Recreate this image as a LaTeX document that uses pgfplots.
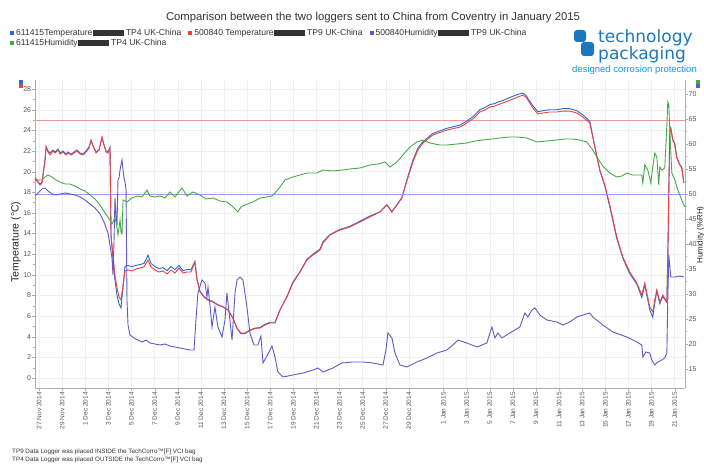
\documentclass[border=0pt]{standalone}
\usepackage{fontspec}
\setmainfont{Liberation Sans}
\newfontfamily\logofont{DejaVu Sans}
\usepackage{pgfplots}
\pgfplotsset{compat=1.18}
\definecolor{tblue}{RGB}{40,105,215}
\definecolor{tred}{RGB}{235,65,65}
\definecolor{hpurple}{RGB}{95,90,200}
\definecolor{hgreen}{RGB}{70,170,70}
\definecolor{refred}{RGB}{240,150,150}
\definecolor{refblue}{RGB}{155,155,235}
\definecolor{logoblue}{RGB}{25,120,190}
\definecolor{logocyan}{RGB}{0,160,225}
\definecolor{axgray}{RGB}{175,175,175}
\definecolor{txtgray}{RGB}{85,85,85}
\newcommand{\sq}[1]{\textcolor{#1}{\rule{4pt}{4pt}}\hspace{2pt}}
\newcommand{\blob}{\rule[-1pt]{31pt}{6.5pt}}
\begin{document}
\begin{tikzpicture}
\path[use as bounding box] (0,0) rectangle (704pt,464pt);
% ---------- temperature axis ----------
\begin{axis}[
  at={(35pt,76pt)}, anchor=south west,
  scale only axis, width=650pt, height=308pt,
  xmin=-0.35, xmax=55.9, ymin=-0.97, ymax=28.88,
  axis x line*=bottom, axis y line*=left,
  axis line style={axgray},
  tick align=outside, major tick length=2.5pt, minor tick length=1.5pt,
  tick style={axgray},
  grid=major, grid style={gray!12},
  xtick={0,2,4,6,8,10,12,14,16,18,20,22,24,26,28,30,32,35,37,39,41,43,45,47,49,51,53,55},
  xticklabels={27 Nov 2014,29 Nov 2014,1 Dec 2014,3 Dec 2014,5 Dec 2014,7 Dec 2014,9 Dec 2014,11 Dec 2014,13 Dec 2014,15 Dec 2014,17 Dec 2014,19 Dec 2014,21 Dec 2014,23 Dec 2014,25 Dec 2014,27 Dec 2014,29 Dec 2014,1 Jan 2015,3 Jan 2015,5 Jan 2015,7 Jan 2015,9 Jan 2015,11 Jan 2015,13 Jan 2015,15 Jan 2015,17 Jan 2015,19 Jan 2015,21 Jan 2015},
  x tick label style={rotate=90, anchor=east, font=\fontsize{6.5}{7}\selectfont, text=txtgray, inner sep=1.5pt},
  ytick={0,2,...,28}, minor y tick num=1,
  y tick label style={font=\fontsize{7}{8}\selectfont, text=txtgray, inner sep=1.2pt},
  /pgf/number format/assume math mode=true,
]
\addplot[refred, line width=0.7pt, forget plot] coordinates {(-0.35,25) (55.9,25)};
% 611415 Temperature TP4 (blue)
\addplot[tblue, line width=0.9pt] coordinates {
(-0.35,19.3) (-0.17,19.1) (0.09,18.8) (0.26,19.0) (0.35,19.8) (0.52,21.2) (0.61,22.4) (0.78,22.0)
(0.95,21.8) (1.21,22.1) (1.38,21.9) (1.64,22.2) (1.82,21.8) (2.08,22.0) (2.34,21.7) (2.51,21.9)
(2.77,21.7) (3.03,21.9) (3.29,22.1) (3.55,21.8) (3.81,21.7) (4.07,22.0) (4.33,22.4) (4.50,23.0)
(4.67,22.5) (4.93,21.9) (5.19,22.1) (5.45,23.3) (5.62,22.6) (5.80,22.0) (5.97,21.9) (6.14,22.3)
(6.23,13.8) (6.40,11.5) (6.57,9.5) (6.75,8.0) (6.92,7.2) (7.09,6.8) (7.27,8.8) (7.44,10.8)
(7.70,10.9) (8.04,10.8) (8.39,10.9) (8.74,11.0) (9.08,11.1) (9.43,11.9) (9.69,11.1) (10.03,10.8)
(10.38,10.6) (10.73,10.7) (11.07,10.4) (11.42,10.8) (11.76,10.5) (12.11,10.9) (12.46,10.4) (12.80,10.5)
(13.15,10.5) (13.49,11.3) (13.67,9.6) (13.93,8.4) (14.27,7.9) (14.62,7.6) (15.05,7.4) (15.48,7.1)
(15.92,6.9) (16.35,6.6) (16.78,5.8) (17.13,4.8) (17.47,4.3) (17.82,4.3) (18.25,4.6) (18.69,4.8)
(19.12,4.9) (19.55,5.2) (19.98,5.4) (20.42,5.4) (20.85,6.6) (21.45,7.9) (21.97,9.3) (22.58,10.3)
(23.18,11.5) (23.70,12.0) (24.31,12.5) (24.57,13.2) (25.17,13.9) (26.04,14.4) (26.90,14.7) (27.77,15.2)
(28.63,15.7) (29.50,16.1) (30.10,16.8) (30.54,16.1) (30.97,16.8) (31.40,17.5) (31.83,19.2) (32.35,21.1)
(32.79,22.3) (33.22,22.9) (34.08,23.7) (35.29,24.2) (36.42,24.5) (37.02,24.9) (37.63,25.4) (38.15,26.0)
(38.58,26.2) (39.01,26.5) (39.45,26.6) (39.62,26.7) (40.14,26.9) (40.57,27.1) (41.00,27.3) (41.44,27.5)
(41.87,27.6) (42.13,27.4) (42.30,27.1) (42.73,26.4) (43.17,25.8) (43.60,25.9) (44.20,26.0) (44.81,26.0)
(45.33,26.1) (45.93,26.1) (46.54,25.9) (47.06,25.5) (47.66,24.9) (48.10,22.4) (48.53,20.1) (48.96,18.6)
(49.39,16.6) (50.00,13.5) (50.52,11.6) (51.12,10.1) (51.73,9.1) (52.16,7.8) (52.42,9.0) (52.60,8.0)
(52.85,6.6) (53.11,5.9) (53.29,7.3) (53.46,8.4) (53.72,7.2) (53.98,7.9) (54.33,7.3) (54.41,11.4)
(54.50,18.2) (54.58,23.8) (54.67,24.2) (54.84,23.1) (55.02,22.7) (55.19,21.4) (55.45,20.7) (55.62,20.4)
(55.80,18.9)};
% 500840 Temperature TP9 (red)
\addplot[tred, line width=0.9pt] coordinates {
(-0.35,19.19) (-0.17,19.09) (0.09,18.70) (0.26,18.90) (0.35,19.67) (0.52,21.12) (0.61,22.38) (0.78,21.90)
(0.95,21.61) (1.21,22.00) (1.38,21.80) (1.64,22.09) (1.82,21.71) (2.08,21.90) (2.34,21.61) (2.51,21.80)
(2.77,21.61) (3.03,21.80) (3.29,22.00) (3.55,21.71) (3.81,21.61) (4.07,21.90) (4.33,22.29) (4.50,23.06)
(4.67,22.48) (4.93,21.80) (5.19,22.09) (5.45,23.35) (5.62,22.58) (5.80,21.90) (5.97,21.80) (6.14,22.38)
(6.23,13.66) (6.40,11.92) (6.57,9.98) (6.75,8.72) (6.92,7.85) (7.09,7.56) (7.27,9.01) (7.44,10.37)
(7.70,10.47) (8.04,10.37) (8.39,10.56) (8.74,10.66) (9.08,10.76) (9.43,11.43) (9.69,10.76) (10.03,10.47)
(10.38,10.27) (10.73,10.37) (11.07,10.08) (11.42,10.47) (11.76,10.17) (12.11,10.66) (12.46,10.17) (12.80,10.27)
(13.15,10.27) (13.49,11.24) (13.67,9.50) (13.93,8.33) (14.27,7.85) (14.62,7.56) (15.05,7.36) (15.48,7.07)
(15.92,6.88) (16.35,6.59) (16.78,5.81) (17.13,4.84) (17.47,4.36) (17.82,4.36) (18.25,4.65) (18.69,4.84)
(19.12,4.84) (19.55,5.14) (19.98,5.33) (20.42,5.33) (20.85,6.59) (21.45,7.85) (21.97,9.21) (22.58,10.27)
(23.18,11.43) (23.70,11.92) (24.31,12.40) (24.57,13.08) (25.17,13.86) (26.04,14.34) (26.90,14.63) (27.77,15.12)
(28.63,15.60) (29.50,16.09) (30.10,16.76) (30.54,16.09) (30.97,16.76) (31.40,17.44) (31.83,19.09) (32.35,20.93)
(32.79,22.09) (33.22,22.77) (34.08,23.55) (35.29,24.03) (36.42,24.32) (37.02,24.71) (37.63,25.19) (38.15,25.78)
(38.58,25.97) (39.01,26.26) (39.45,26.36) (39.62,26.45) (40.14,26.65) (40.57,26.84) (41.00,27.03) (41.44,27.23)
(41.87,27.42) (42.13,27.23) (42.30,26.94) (42.73,26.16) (43.17,25.58) (43.60,25.68) (44.20,25.78) (44.81,25.78)
(45.33,25.87) (45.93,25.87) (46.54,25.68) (47.06,25.29) (47.66,24.71) (48.10,22.38) (48.53,20.16) (48.96,18.70)
(49.39,16.76) (50.00,13.66) (50.52,11.72) (51.12,10.27) (51.73,9.21) (52.16,8.04) (52.42,9.21) (52.60,8.24)
(52.85,6.88) (53.11,6.40) (53.29,7.56) (53.46,8.53) (53.72,7.36) (53.98,8.04) (54.33,7.36) (54.41,11.43)
(54.50,18.22) (54.58,23.84) (54.67,24.22) (54.84,23.06) (55.02,22.58) (55.19,21.32) (55.45,20.64) (55.62,20.35)
(55.80,18.90)};
\end{axis}
% ---------- humidity axis ----------
\begin{axis}[
  at={(35pt,76pt)}, anchor=south west,
  scale only axis, width=650pt, height=308pt,
  xmin=-0.35, xmax=55.9, ymin=11.2, ymax=72.8,
  axis x line=none, axis y line*=right,
  axis line style={axgray},
  tick align=outside, major tick length=2.5pt, minor tick length=1.5pt,
  tick style={axgray},
  ytick={15,20,...,70}, minor y tick num=1,
  y tick label style={font=\fontsize{7}{8}\selectfont, text=txtgray, inner sep=1pt},
  /pgf/number format/assume math mode=true,
]
\addplot[refblue, line width=0.7pt, forget plot] coordinates {(-0.35,50) (55.9,50)};
% 500840 Humidity TP9 (purple)
\addplot[hpurple, line width=0.9pt] coordinates {
(-0.35,49.6) (-0.09,50.2) (0.26,51.0) (0.52,51.2) (0.78,50.6) (1.12,50.0) (1.47,49.8) (1.82,50.0)
(2.25,50.2) (2.68,50.0) (3.11,49.8) (3.55,49.4) (3.98,48.8) (4.41,48.0) (4.84,47.2) (5.28,46.0)
(5.62,44.4) (5.97,42.2) (6.14,39.8) (6.31,37.2) (6.40,33.8) (6.49,40.8) (6.57,49.2) (6.66,45.8)
(6.75,43.8) (6.83,52.8) (6.92,53.2) (7.01,54.8) (7.09,55.8) (7.18,56.8) (7.27,54.8) (7.35,53.2)
(7.44,52.4) (7.53,50.8) (7.61,28.8) (7.70,23.8) (7.87,21.8) (8.22,21.2) (8.56,20.8) (8.91,20.4)
(9.26,20.8) (9.60,20.2) (10.03,20.0) (10.47,19.8) (10.90,20.0) (11.33,19.6) (11.76,19.4) (12.20,19.2)
(12.63,19.0) (13.06,18.8) (13.41,18.8) (13.58,24.8) (13.75,30.2) (14.10,32.8) (14.36,32.2) (14.53,29.4)
(14.62,31.4) (14.79,27.8) (14.97,23.4) (15.22,27.4) (15.48,23.4) (15.83,21.4) (16.09,24.8) (16.26,30.2)
(16.52,24.8) (16.70,20.8) (16.96,30.2) (17.13,32.8) (17.39,33.4) (17.65,32.8) (17.99,27.4) (18.25,22.2)
(18.60,19.8) (18.94,19.8) (19.20,21.6) (19.38,16.2) (19.72,17.6) (19.98,18.8) (20.16,19.6) (20.42,17.4)
(20.67,14.4) (21.11,13.4) (21.97,13.8) (22.84,14.2) (23.70,14.8) (24.13,15.2) (24.57,14.4) (25.43,15.2)
(26.21,16.2) (27.16,16.4) (28.03,16.4) (28.89,16.2) (29.76,15.8) (30.02,18.8) (30.19,22.2) (30.54,21.2)
(30.80,18.2) (31.23,15.8) (31.83,15.4) (32.70,16.4) (33.56,17.2) (34.43,18.2) (35.29,18.8) (35.81,19.8)
(36.25,20.8) (37.02,20.2) (37.89,19.4) (38.75,20.2) (39.19,23.4) (39.45,21.2) (39.71,22.2) (40.05,21.2)
(40.74,22.2) (41.61,23.4) (42.04,26.2) (42.30,25.4) (42.65,26.8) (42.91,27.2) (43.34,25.8) (43.94,24.8)
(44.81,24.4) (45.33,23.8) (45.93,24.4) (46.54,25.4) (47.06,25.8) (47.66,26.2) (47.92,25.4) (48.79,23.8)
(49.65,22.4) (50.86,21.4) (51.73,20.4) (52.16,19.8) (52.25,17.4) (52.51,18.4) (52.85,18.2) (53.03,16.8)
(53.29,15.8) (53.55,16.4) (53.89,16.8) (54.15,17.2) (54.33,18.2) (54.41,28.8) (54.50,37.8) (54.67,33.4)
(55.02,33.4) (55.45,33.6) (55.80,33.4)};
% 611415 Humidity TP4 (green)
\addplot[hgreen, line width=0.9pt] coordinates {
(-0.35,53.2) (-0.09,52.8) (0.26,52.8) (0.52,53.4) (0.78,53.8) (1.12,53.4) (1.47,52.8) (1.82,52.4)
(2.25,52.0) (2.68,52.0) (3.11,51.6) (3.55,51.0) (3.98,50.6) (4.41,49.8) (4.84,49.0) (5.28,47.8)
(5.71,46.2) (6.14,44.8) (6.31,44.0) (6.40,44.4) (6.57,45.4) (6.75,43.2) (6.83,41.8) (7.01,44.8)
(7.09,42.4) (7.18,42.0) (7.27,48.8) (7.61,48.4) (8.04,49.2) (8.48,49.6) (8.91,49.4) (9.34,50.8)
(9.60,49.6) (10.03,49.4) (10.47,49.6) (10.90,49.2) (11.33,50.4) (11.76,49.4) (12.37,51.2) (12.80,49.6)
(13.32,50.4) (13.93,49.8) (14.45,49.0) (15.05,49.2) (15.66,48.6) (16.26,48.4) (16.70,47.6) (17.04,46.8)
(17.21,46.4) (17.47,47.4) (17.82,47.8) (18.51,48.4) (19.12,49.2) (19.72,49.4) (20.16,49.6) (20.42,50.2)
(20.85,51.4) (21.28,52.8) (21.97,53.4) (22.58,53.8) (23.18,54.2) (24.05,54.2) (24.57,54.8) (25.43,54.6)
(26.30,54.8) (26.90,55.0) (27.77,55.2) (28.63,55.8) (29.33,56.0) (29.93,56.4) (30.36,55.4) (30.97,56.4)
(31.49,57.8) (32.09,59.4) (32.70,60.4) (33.22,60.8) (33.82,60.2) (34.69,59.8) (35.29,59.8) (36.16,60.0)
(37.02,60.2) (37.72,60.6) (38.41,60.8) (39.19,61.0) (39.88,61.2) (40.74,61.4) (41.35,61.4) (42.21,61.2)
(43.08,60.4) (43.94,60.6) (44.81,60.8) (45.50,61.0) (46.19,61.0) (46.80,60.8) (47.40,60.4) (47.92,58.8)
(48.27,57.4) (48.79,55.6) (49.39,54.2) (50.00,53.4) (50.43,53.6) (50.86,54.2) (51.38,53.8) (52.16,53.8)
(52.25,52.2) (52.42,55.8) (52.68,54.8) (52.94,52.2) (53.11,55.4) (53.29,58.2) (53.46,57.4) (53.63,51.8)
(53.72,55.4) (53.89,54.8) (54.15,55.2) (54.33,63.8) (54.41,68.4) (54.50,67.8) (54.58,62.8) (54.76,54.2)
(55.02,52.8) (55.28,50.8) (55.62,48.8) (55.88,47.4)};
\end{axis}
% ---------- texts ----------
\node[font=\fontsize{11.3}{13}\selectfont, text=black!80] at (373pt,446pt)
  {Comparison between the two loggers sent to China from Coventry in January 2015};
\node[anchor=west, inner sep=0pt, font=\fontsize{8.6}{9}\selectfont, text=black!80] at (10pt,431pt)
  {\sq{tblue}611415Temperature\blob{} TP4 UK-China\hspace{7pt}\sq{tred}500840 Temperature\blob{} TP9 UK-China\hspace{7pt}\sq{hpurple}500840Humidity\blob{} TP9 UK-China};
\node[anchor=west, inner sep=0pt, font=\fontsize{8.6}{9}\selectfont, text=black!80] at (10pt,421pt)
  {\sq{hgreen}611415Humidity\blob{} TP4 UK-China};
% axis labels
\node[rotate=90, font=\fontsize{10.5}{12}\selectfont, text=black!85] at (16pt,222pt) {Temperature (°C)};
\node[rotate=90, inner sep=0pt, font=\fontsize{8}{9}\selectfont, text=black!85] at (700.5pt,229pt) {Humidity (\%RH)};
% axis colour keys
\fill[tblue] (19pt,380pt) rectangle (23pt,384pt);
\fill[tred] (19pt,376pt) rectangle (23pt,380pt);
\fill[hgreen] (696pt,380pt) rectangle (700pt,384pt);
\fill[hpurple] (696pt,376pt) rectangle (700pt,380pt);
% logo
\fill[logoblue, rounded corners=3pt] (574pt,422pt) rectangle (586pt,434pt);
\fill[logoblue, rounded corners=3pt] (581pt,408pt) rectangle (594pt,422pt);
\node[anchor=base west, inner sep=0pt, font=\logofont\fontsize{17}{19}\selectfont, text=logoblue] at (598pt,421.5pt) {technology};
\node[anchor=base west, inner sep=0pt, font=\logofont\fontsize{17}{19}\selectfont, text=logoblue] at (598pt,404pt) {packaging};
\node[anchor=base west, inner sep=0pt, font=\fontsize{9.5}{11}\selectfont, text=logocyan] at (572pt,391pt) {designed corrosion protection};
% footnotes
\node[anchor=west, inner sep=0pt, font=\fontsize{6.3}{7}\selectfont, text=black!80] at (12pt,12pt)
  {TP9 Data Logger was placed INSIDE the TechCorro\texttrademark[F] VCI bag};
\node[anchor=west, inner sep=0pt, font=\fontsize{6.3}{7}\selectfont, text=black!80] at (12pt,4pt)
  {TP4 Data Logger was placed OUTSIDE the TechCorro\texttrademark[F] VCI bag};
\end{tikzpicture}
\end{document}
